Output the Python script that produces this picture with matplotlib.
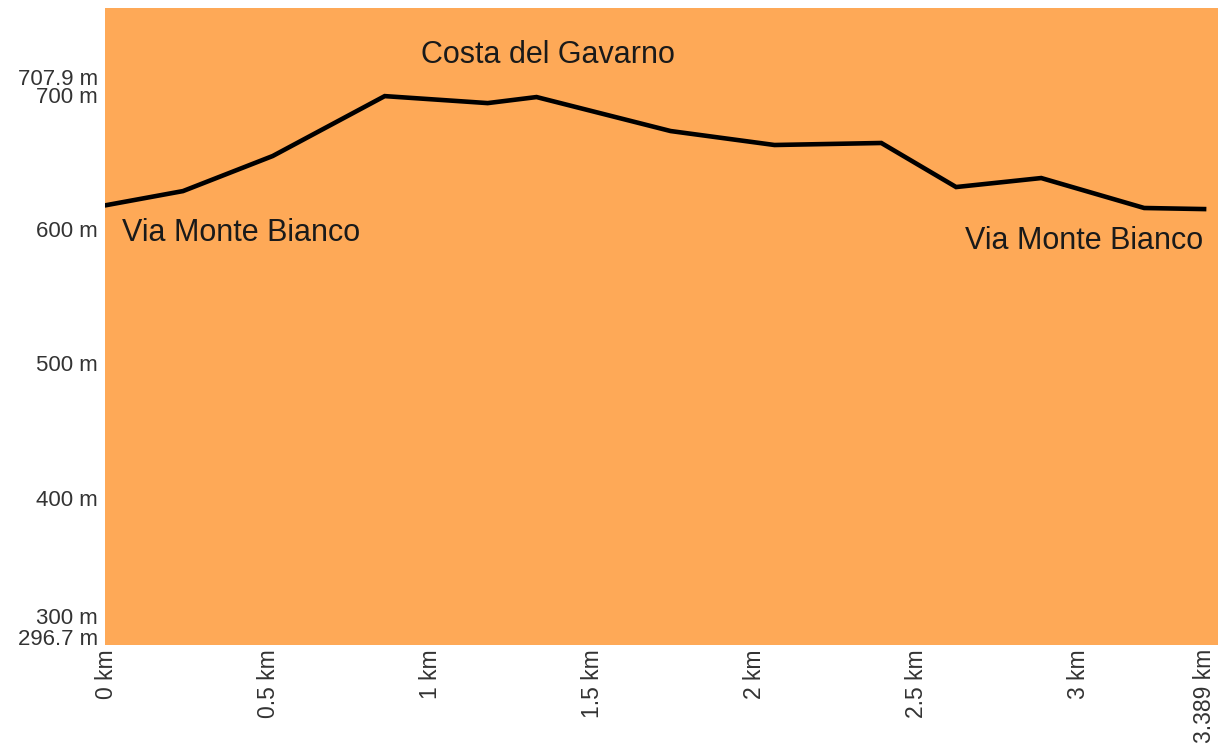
import matplotlib
matplotlib.use("Agg")
import matplotlib.pyplot as plt
from matplotlib.transforms import blended_transform_factory, ScaledTranslation

# Data (distance in km, elevation in m)
distance_km = [0.0, 0.235, 0.512, 0.858, 1.176, 1.327, 1.741, 2.062, 2.392, 2.623, 2.886, 3.204, 3.389]
elevation_m = [619.6, 630.0, 656.1, 700.7, 695.5, 700.0, 674.7, 664.3, 665.8, 633.0, 639.7, 617.4, 616.6]

x_ticks = [0, 0.5, 1, 1.5, 2, 2.5, 3, 3.389]
x_labels = ["0 km", "0.5 km", "1 km", "1.5 km", "2 km", "2.5 km", "3 km", "3.389 km"]

y_ticks = [296.7, 300, 400, 500, 600, 700, 707.9]
y_labels = ["296.7 m", "300 m", "400 m", "500 m", "600 m", "700 m", "707.9 m"]
y_label_shift_px = [-1, 16, 0, 0, 0, 0, 7]

annotations = [
    ("Costa del Gavarno", 548, 55, "center"),
    ("Via Monte Bianco", 122, 233, "left"),
    ("Via Monte Bianco", 1203, 241, "right"),
]

plt.rcParams['font.family'] = ['Liberation Sans', 'DejaVu Sans']

W, H = 1222, 755
fig = plt.figure(figsize=(W / 100, H / 100), dpi=100)
ax = fig.add_axes([105 / W, 1 - 645 / H, (1218 - 105) / W, (645 - 8) / H])
ax.set_facecolor('#FEA957')
for s in ax.spines.values():
    s.set_visible(False)

ax.plot(distance_km, elevation_m, color='black', lw=3.3, solid_joinstyle='miter')
ax.set_xlim(-0.006, 3.432)
ax.set_ylim(292.05, 766.3)

ax.set_xticks(x_ticks)
ax.set_xticklabels(x_labels, rotation=90, fontsize=16.5, color='#333333')
ax.tick_params(axis='x', length=0, pad=3)
ax.set_yticks([])

trans = blended_transform_factory(ax.transAxes, ax.transData)
for v, lab, sh in zip(y_ticks, y_labels, y_label_shift_px):
    t = trans + ScaledTranslation(-7 / 100, sh / 100, fig.dpi_scale_trans)
    ax.text(0, v, lab, transform=t, ha='right', va='center', fontsize=16, color='#333333')

for txt, px, py, ha in annotations:
    fig.text(px / W, 1 - py / H, txt, ha=ha, va='center', fontsize=22, color='#1a1a1a')

fig.savefig('out.png', dpi=100, facecolor='white')
